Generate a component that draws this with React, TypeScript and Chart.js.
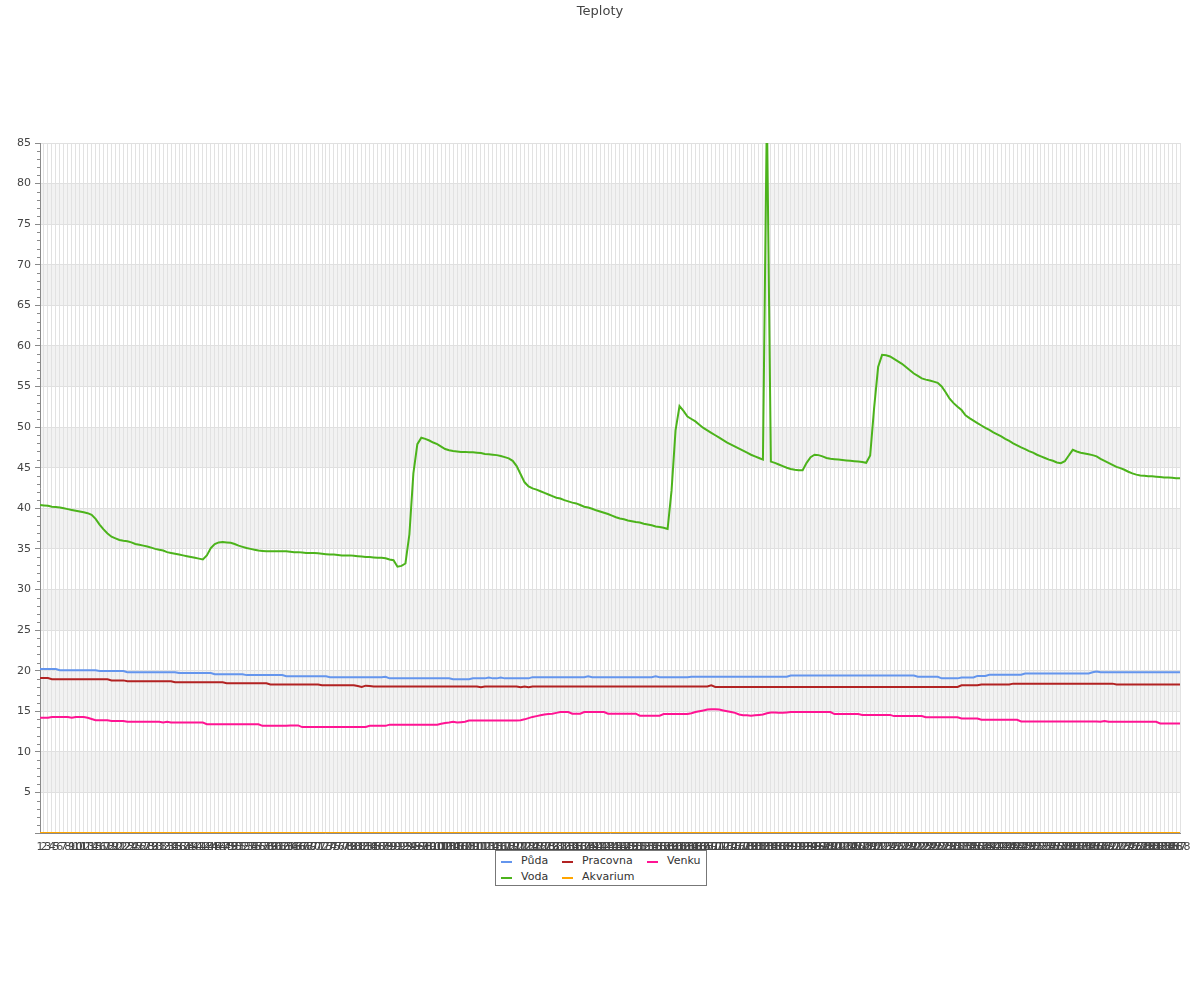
import React, { useEffect, useRef } from 'react';
import { Chart, registerables } from 'chart.js';

Chart.register(...registerables);

const TITLE = 'Teploty';
const LABELS: string[] = Array.from({ length: 288 }, (_, i) => String(i + 1));

const PUDA = [
  20.2,20.2,20.2,20.2,20.2,20.05,20.05,20.05,20.05,20.05,20.05,20.05,20.05,20.05,20.05,19.95,19.95,19.95,19.95,19.95,19.95,19.95,19.8,19.8,
  19.8,19.8,19.8,19.8,19.8,19.8,19.8,19.8,19.8,19.8,19.8,19.7,19.7,19.7,19.7,19.7,19.7,19.7,19.7,19.7,19.55,19.55,19.55,19.55,
  19.55,19.55,19.55,19.55,19.45,19.45,19.45,19.45,19.45,19.45,19.45,19.45,19.45,19.45,19.3,19.3,19.3,19.3,19.3,19.3,19.3,19.3,19.3,19.3,
  19.3,19.2,19.2,19.2,19.2,19.2,19.2,19.2,19.2,19.2,19.2,19.2,19.2,19.2,19.2,19.25,19.05,19.05,19.05,19.05,19.05,19.05,19.05,19.05,
  19.05,19.05,19.05,19.05,19.05,19.05,19.05,19.05,18.95,18.95,18.95,18.95,18.95,19.05,19.05,19.05,19.05,19.15,19.05,19.05,19.15,19.05,19.05,19.05,
  19.05,19.05,19.05,19.05,19.2,19.2,19.2,19.2,19.2,19.2,19.2,19.2,19.2,19.2,19.2,19.2,19.2,19.2,19.3,19.2,19.2,19.2,19.2,19.2,
  19.2,19.2,19.2,19.2,19.2,19.2,19.2,19.2,19.2,19.2,19.2,19.3,19.2,19.2,19.2,19.2,19.2,19.2,19.2,19.2,19.25,19.25,19.25,19.25,
  19.25,19.25,19.25,19.25,19.25,19.25,19.25,19.25,19.25,19.25,19.25,19.25,19.25,19.25,19.25,19.25,19.25,19.25,19.25,19.25,19.25,19.4,19.4,19.4,
  19.4,19.4,19.4,19.4,19.4,19.4,19.4,19.4,19.4,19.4,19.4,19.4,19.4,19.4,19.4,19.4,19.4,19.4,19.4,19.4,19.4,19.4,19.4,19.4,
  19.4,19.4,19.4,19.4,19.4,19.25,19.25,19.25,19.25,19.25,19.25,19.05,19.05,19.05,19.05,19.05,19.15,19.15,19.15,19.15,19.35,19.35,19.35,19.5,
  19.5,19.5,19.5,19.5,19.5,19.5,19.5,19.5,19.65,19.65,19.65,19.65,19.65,19.65,19.65,19.65,19.65,19.65,19.65,19.65,19.65,19.65,19.65,19.65,
  19.65,19.8,19.9,19.8,19.8,19.8,19.8,19.8,19.8,19.8,19.8,19.8,19.8,19.8,19.8,19.8,19.8,19.8,19.8,19.8,19.8,19.8,19.8,19.8,
];

const VODA = [
  40.4,40.35,40.3,40.2,40.15,40.1,40.0,39.9,39.8,39.7,39.6,39.5,39.4,39.2,38.7,38.0,37.4,36.9,36.5,36.3,36.1,36.0,35.95,35.8,
  35.6,35.5,35.4,35.3,35.15,35.0,34.9,34.8,34.6,34.5,34.4,34.3,34.2,34.1,34.0,33.9,33.8,33.7,34.2,35.1,35.6,35.8,35.85,35.8,
  35.75,35.6,35.4,35.25,35.1,35.0,34.9,34.8,34.75,34.7,34.7,34.7,34.7,34.7,34.7,34.65,34.6,34.6,34.55,34.5,34.5,34.5,34.45,34.4,
  34.35,34.3,34.3,34.25,34.2,34.2,34.2,34.15,34.1,34.05,34.0,34.0,33.95,33.9,33.9,33.85,33.7,33.6,32.8,32.9,33.2,36.8,44.3,47.9,
  48.7,48.55,48.35,48.1,47.9,47.6,47.3,47.15,47.05,47.0,46.95,46.95,46.9,46.9,46.85,46.8,46.7,46.65,46.6,46.55,46.45,46.3,46.15,45.85,
  45.2,44.2,43.2,42.7,42.45,42.3,42.1,41.9,41.7,41.5,41.3,41.2,41.0,40.85,40.7,40.6,40.4,40.2,40.1,39.95,39.75,39.6,39.45,39.3,
  39.1,38.9,38.75,38.65,38.5,38.4,38.3,38.25,38.1,38.0,37.9,37.75,37.7,37.6,37.45,42.2,49.6,52.6,52.0,51.3,51.0,50.7,50.3,49.9,
  49.6,49.3,49.0,48.7,48.4,48.1,47.85,47.6,47.35,47.1,46.85,46.6,46.4,46.2,46.0,89,45.75,45.6,45.4,45.2,45.0,44.85,44.75,44.7,
  44.7,45.6,46.3,46.6,46.55,46.4,46.2,46.1,46.05,46.0,45.95,45.9,45.85,45.8,45.75,45.7,45.6,46.5,52.4,57.4,58.9,58.85,58.7,58.4,
  58.1,57.8,57.4,57.0,56.6,56.3,56.0,55.85,55.75,55.6,55.45,55.0,54.3,53.5,52.95,52.5,52.1,51.45,51.1,50.8,50.5,50.2,49.9,49.65,
  49.35,49.1,48.85,48.55,48.3,48.0,47.75,47.5,47.3,47.05,46.85,46.6,46.4,46.2,46.0,45.85,45.65,45.55,45.8,46.5,47.2,47.0,46.85,46.75,
  46.65,46.55,46.4,46.1,45.85,45.6,45.35,45.1,44.95,44.75,44.5,44.3,44.15,44.05,44.0,43.95,43.95,43.9,43.85,43.8,43.8,43.75,43.7,43.7,
];

const PRACOVNA = [
  19.1,19.1,19.1,18.95,18.95,18.95,18.95,18.95,18.95,18.95,18.95,18.95,18.95,18.95,18.95,18.95,18.95,18.95,18.8,18.8,18.8,18.8,18.7,18.7,
  18.7,18.7,18.7,18.7,18.7,18.7,18.7,18.7,18.7,18.7,18.57,18.57,18.57,18.57,18.57,18.57,18.57,18.57,18.57,18.57,18.57,18.57,18.57,18.45,
  18.45,18.45,18.45,18.45,18.45,18.45,18.45,18.45,18.45,18.45,18.3,18.3,18.3,18.3,18.3,18.3,18.3,18.3,18.3,18.3,18.3,18.3,18.3,18.2,
  18.2,18.2,18.2,18.2,18.2,18.2,18.2,18.2,18.1,18.0,18.15,18.1,18.05,18.05,18.05,18.05,18.05,18.05,18.05,18.05,18.05,18.05,18.05,18.05,
  18.05,18.05,18.05,18.05,18.05,18.05,18.05,18.05,18.05,18.05,18.05,18.05,18.05,18.05,18.05,17.95,18.05,18.05,18.05,18.05,18.05,18.05,18.05,18.05,
  18.05,17.95,18.05,17.95,18.05,18.05,18.05,18.05,18.05,18.05,18.05,18.05,18.05,18.05,18.05,18.05,18.05,18.05,18.05,18.05,18.05,18.05,18.05,18.05,
  18.05,18.05,18.05,18.05,18.05,18.05,18.05,18.05,18.05,18.05,18.05,18.05,18.05,18.05,18.05,18.05,18.05,18.05,18.05,18.05,18.05,18.05,18.05,18.05,
  18.05,18.2,18.0,18.0,18.0,18.0,18.0,18.0,18.0,18.0,18.0,18.0,18.0,18.0,18.0,18.0,18.0,18.0,18.0,18.0,18.0,18.0,18.0,18.0,
  18.0,18.0,18.0,18.0,18.0,18.0,18.0,18.0,18.0,18.0,18.0,18.0,18.0,18.0,18.0,18.0,18.0,18.0,18.0,18.0,18.0,18.0,18.0,18.0,
  18.0,18.0,18.0,18.0,18.0,18.0,18.0,18.0,18.0,18.0,18.0,18.0,18.0,18.0,18.0,18.0,18.2,18.2,18.2,18.2,18.2,18.3,18.3,18.3,
  18.3,18.3,18.3,18.3,18.3,18.4,18.4,18.4,18.4,18.4,18.4,18.4,18.4,18.4,18.4,18.4,18.4,18.4,18.4,18.4,18.4,18.4,18.4,18.4,
  18.4,18.4,18.4,18.4,18.4,18.4,18.4,18.3,18.3,18.3,18.3,18.3,18.3,18.3,18.3,18.3,18.3,18.3,18.3,18.3,18.3,18.3,18.3,18.3,
];

const AKVARIUM = [
  0,0,0,0,0,0,0,0,0,0,0,0,0,0,0,0,0,0,0,0,0,0,0,0,
  0,0,0,0,0,0,0,0,0,0,0,0,0,0,0,0,0,0,0,0,0,0,0,0,
  0,0,0,0,0,0,0,0,0,0,0,0,0,0,0,0,0,0,0,0,0,0,0,0,
  0,0,0,0,0,0,0,0,0,0,0,0,0,0,0,0,0,0,0,0,0,0,0,0,
  0,0,0,0,0,0,0,0,0,0,0,0,0,0,0,0,0,0,0,0,0,0,0,0,
  0,0,0,0,0,0,0,0,0,0,0,0,0,0,0,0,0,0,0,0,0,0,0,0,
  0,0,0,0,0,0,0,0,0,0,0,0,0,0,0,0,0,0,0,0,0,0,0,0,
  0,0,0,0,0,0,0,0,0,0,0,0,0,0,0,0,0,0,0,0,0,0,0,0,
  0,0,0,0,0,0,0,0,0,0,0,0,0,0,0,0,0,0,0,0,0,0,0,0,
  0,0,0,0,0,0,0,0,0,0,0,0,0,0,0,0,0,0,0,0,0,0,0,0,
  0,0,0,0,0,0,0,0,0,0,0,0,0,0,0,0,0,0,0,0,0,0,0,0,
  0,0,0,0,0,0,0,0,0,0,0,0,0,0,0,0,0,0,0,0,0,0,0,0,
];

const VENKU = [
  14.2,14.2,14.2,14.3,14.3,14.3,14.3,14.3,14.2,14.3,14.3,14.3,14.2,14.05,13.9,13.9,13.9,13.9,13.8,13.8,13.8,13.8,13.7,13.7,
  13.7,13.7,13.7,13.7,13.7,13.7,13.7,13.6,13.7,13.6,13.6,13.6,13.6,13.6,13.6,13.6,13.6,13.6,13.4,13.4,13.4,13.4,13.4,13.4,
  13.4,13.4,13.4,13.4,13.4,13.4,13.4,13.4,13.2,13.2,13.2,13.2,13.2,13.2,13.2,13.25,13.25,13.25,13.05,13.05,13.05,13.05,13.05,13.05,
  13.05,13.05,13.05,13.05,13.05,13.05,13.05,13.05,13.05,13.05,13.05,13.2,13.2,13.2,13.2,13.2,13.35,13.35,13.35,13.35,13.35,13.35,13.35,13.35,
  13.35,13.35,13.35,13.35,13.35,13.45,13.55,13.6,13.7,13.6,13.65,13.7,13.85,13.85,13.85,13.85,13.85,13.85,13.85,13.85,13.85,13.85,13.85,13.85,
  13.85,13.9,14.0,14.15,14.3,14.4,14.5,14.6,14.65,14.7,14.8,14.9,14.9,14.9,14.7,14.7,14.7,14.9,14.9,14.9,14.9,14.9,14.9,14.7,
  14.7,14.7,14.7,14.7,14.7,14.7,14.7,14.45,14.45,14.45,14.45,14.45,14.45,14.65,14.65,14.65,14.65,14.65,14.65,14.65,14.75,14.9,15.0,15.1,
  15.2,15.25,15.25,15.2,15.1,15.0,14.9,14.8,14.6,14.5,14.5,14.45,14.5,14.55,14.6,14.75,14.85,14.85,14.8,14.8,14.85,14.9,14.9,14.9,
  14.9,14.9,14.9,14.9,14.9,14.9,14.9,14.9,14.65,14.65,14.65,14.65,14.65,14.65,14.65,14.55,14.55,14.55,14.55,14.55,14.55,14.55,14.55,14.4,
  14.4,14.4,14.4,14.4,14.4,14.4,14.4,14.25,14.25,14.25,14.25,14.25,14.25,14.25,14.25,14.25,14.1,14.1,14.1,14.1,14.1,13.95,13.95,13.95,
  13.95,13.95,13.95,13.95,13.95,13.95,13.95,13.75,13.75,13.75,13.75,13.75,13.75,13.75,13.75,13.75,13.75,13.75,13.75,13.75,13.75,13.75,13.75,13.75,
  13.75,13.75,13.75,13.7,13.8,13.7,13.7,13.7,13.7,13.7,13.7,13.7,13.7,13.7,13.7,13.7,13.7,13.7,13.5,13.5,13.5,13.5,13.5,13.5,
];

const Y_MIN = 0;
const Y_MAX = 85;
const Y_STEP = 5;
const BANDS: [number, number][] = [
  [5, 10], [15, 20], [25, 30], [35, 40], [45, 50], [55, 60], [65, 70], [75, 80],
];

const SERIES = [
  { name: 'Půda', data: PUDA, color: '#6495ed' },
  { name: 'Voda', data: VODA, color: '#4cb31b' },
  { name: 'Pracovna', data: PRACOVNA, color: '#b22222' },
  { name: 'Akvarium', data: AKVARIUM, color: '#ffa500' },
  { name: 'Venku', data: VENKU, color: '#ff1493' },
];

// legend order as in the reference: rows of three
const LEGEND_ROWS = [
  ['Půda', 'Pracovna', 'Venku'],
  ['Voda', 'Akvarium'],
];

const FONT = "'DejaVu Sans', Verdana, sans-serif";

const bandsPlugin = {
  id: 'bands',
  beforeDraw(chart: any) {
    const { ctx, chartArea, scales } = chart;
    const y = scales.y;
    ctx.save();
    ctx.fillStyle = '#f2f2f2';
    for (const [lo, hi] of BANDS) {
      const top = y.getPixelForValue(hi);
      const bottom = y.getPixelForValue(lo);
      ctx.fillRect(chartArea.left, top, chartArea.right - chartArea.left, bottom - top);
    }
    ctx.restore();
  },
  afterDraw(chart: any) {
    const { ctx, chartArea, scales } = chart;
    const y = scales.y;
    ctx.save();
    ctx.strokeStyle = '#8a8a8a';
    ctx.lineWidth = 1;
    ctx.beginPath();
    for (let v = Y_MIN + 1; v < Y_MAX; v++) {
      if (v % Y_STEP === 0) continue;
      const py = Math.round(y.getPixelForValue(v)) + 0.5;
      ctx.moveTo(chartArea.left - 3, py);
      ctx.lineTo(chartArea.left, py);
    }
    ctx.stroke();
    ctx.restore();
  },
};

export default function App() {
  const canvasRef = useRef<HTMLCanvasElement | null>(null);

  useEffect(() => {
    if (!canvasRef.current) return;
    Chart.defaults.font.family = FONT;
    const chart = new Chart(canvasRef.current, {
      type: 'line',
      data: {
        labels: LABELS,
        datasets: SERIES.map((s) => ({
          label: s.name,
          data: s.data,
          borderColor: s.color,
          backgroundColor: s.color,
          borderWidth: 2,
          pointRadius: 0,
          pointHoverRadius: 0,
          tension: 0,
          fill: false,
          yAxisID: 'y',
        })),
      },
      options: {
        responsive: false,
        animation: false,
        events: [],
        layout: { padding: { left: 0, right: 0, top: 0, bottom: 0 } },
        plugins: {
          legend: { display: false },
          tooltip: { enabled: false },
          title: {
            display: true,
            text: TITLE,
            color: '#444',
            font: { family: FONT, size: 13, weight: 'normal' },
            padding: { top: 4, bottom: 123.4 },
          },
        },
        scales: {
          x: {
            type: 'category',
            offset: false,
            afterFit: (scale: any) => { scale.height = 167; },
            grid: { color: '#e2e2e2', lineWidth: 1, drawTicks: false },
            border: { color: '#8a8a8a', width: 1 },
            ticks: {
              autoSkip: false,
              maxRotation: 0,
              minRotation: 0,
              padding: 8,
              color: '#444',
              font: { family: FONT, size: 11 },
            },
          },
          y: {
            min: Y_MIN,
            max: Y_MAX,
            position: 'left',
            afterFit: (scale: any) => { scale.width = 40; },
            grid: { color: '#e0e0e0', lineWidth: 1, drawTicks: true, tickLength: 5, tickColor: '#8a8a8a' },
            border: { color: '#8a8a8a', width: 1 },
            ticks: {
              stepSize: Y_STEP,
              padding: 4,
              color: '#444',
              font: { family: FONT, size: 11 },
              callback: (v: any) => (Number(v) === 0 ? '' : String(v)),
            },
          },
          spacer: {
            type: 'linear',
            position: 'right',
            min: Y_MIN,
            max: Y_MAX,
            afterFit: (scale: any) => { scale.width = 20; },
            grid: { display: false, drawTicks: false },
            border: { display: false },
            ticks: { display: false },
          },
        },
      },
      plugins: [bandsPlugin],
    });
    return () => chart.destroy();
  }, []);

  const colorOf = (name: string) => SERIES.find((s) => s.name === name)!.color;
  const colLeft = [6, 67, 152];

  return (
    <div style={{ position: 'absolute', left: 0, top: 0, width: 1200, height: 1000, background: '#fff' }}>
      <canvas ref={canvasRef} width={1200} height={1000} style={{ display: 'block', width: 1200, height: 1000 }} />
      <div
        style={{
          position: 'absolute',
          left: 495,
          top: 850,
          width: 212,
          height: 36,
          boxSizing: 'border-box',
          border: '1px solid #777',
          background: '#fff',
          fontFamily: FONT,
          fontSize: 11,
          color: '#333',
        }}
      >
        {LEGEND_ROWS.map((row, r) =>
          row.map((name, c) => (
            <div
              key={name}
              style={{
                position: 'absolute',
                left: colLeft[c] - 1,
                top: 3 + r * 16 - 1,
                height: 16,
                lineHeight: '16px',
                whiteSpace: 'nowrap',
                display: 'flex',
                alignItems: 'center',
              }}
            >
              <span style={{ display: 'inline-block', width: 11, height: 2, background: colorOf(name), marginRight: 9, marginTop: 2 }} />
              <span>{name}</span>
            </div>
          ))
        )}
      </div>
    </div>
  );
}
